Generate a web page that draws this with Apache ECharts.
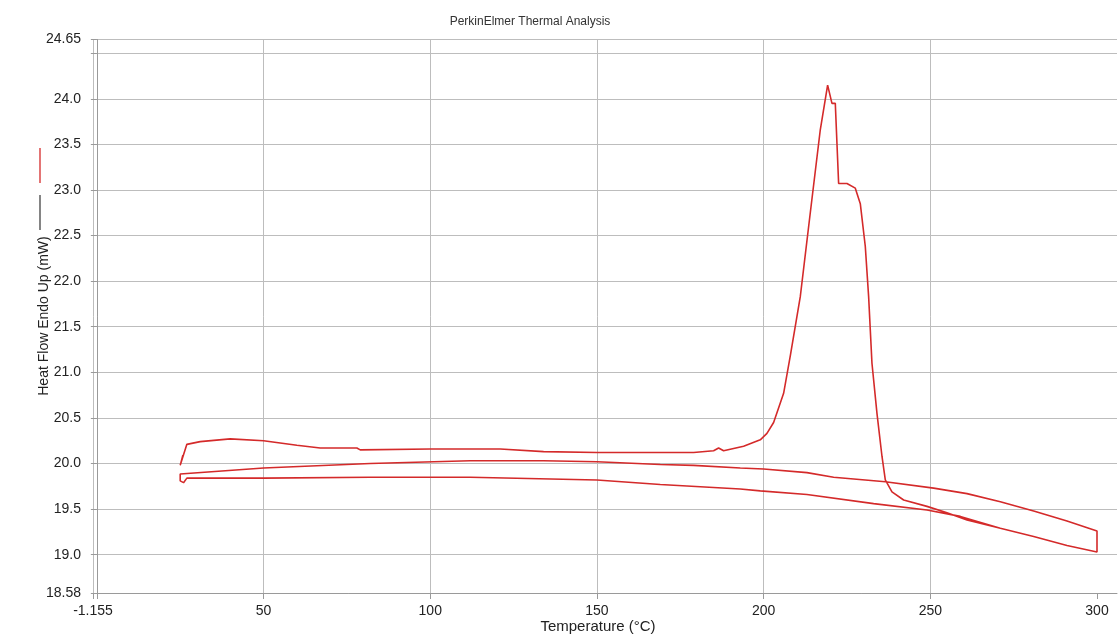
<!DOCTYPE html>
<html>
<head>
<meta charset="utf-8">
<script src="https://cdn.jsdelivr.net/npm/echarts@6/dist/echarts.min.js"></script>
<style>
html,body{margin:0;padding:0;background:#fff;}
#chart{width:1118px;height:638px;}
</style>
</head>
<body>
<div id="chart"></div>
<script>
// First heating (with melting peak)
const heat1T = [25.8, 25.0, 27.0, 31, 40, 50, 60, 67, 78, 79, 100, 112, 121, 134, 150, 179, 185, 186.5, 188, 194, 199, 201, 203, 206, 208, 211, 214, 217, 219.2, 220.5, 221.5, 222.5, 225, 227.5, 229, 230.5, 231.5, 232.5, 234, 235.5, 236.5, 238.5, 242, 249, 255, 261, 271, 281, 291, 300];
const heat1V = [20.09, 19.98, 20.21, 20.24, 20.27, 20.25, 20.20, 20.17, 20.17, 20.15, 20.16, 20.16, 20.16, 20.13, 20.12, 20.12, 20.14, 20.17, 20.14, 20.19, 20.26, 20.33, 20.45, 20.77, 21.18, 21.83, 22.75, 23.66, 24.15, 23.95, 23.95, 23.07, 23.07, 23.02, 22.85, 22.38, 21.83, 21.10, 20.55, 20.08, 19.82, 19.69, 19.60, 19.53, 19.46, 19.38, 19.29, 19.20, 19.10, 19.03];
// Cooling back from 300
const coolT = [300, 291, 281, 271, 261, 251, 236.5, 221, 213, 200, 193, 179, 169, 150, 134, 112, 82, 50, 25];
const coolV = [19.26, 19.37, 19.48, 19.58, 19.67, 19.73, 19.80, 19.85, 19.90, 19.94, 19.95, 19.98, 19.99, 20.02, 20.03, 20.03, 20.00, 19.95, 19.885];
// Second heating
const heat2T = [25, 26, 27, 50, 82, 112, 150, 169, 193, 199, 213, 233, 249, 259, 271, 281, 291, 300];
const heat2V = [19.81, 19.79, 19.84, 19.84, 19.85, 19.85, 19.82, 19.77, 19.72, 19.70, 19.66, 19.56, 19.49, 19.42, 19.29, 19.20, 19.10, 19.03];

const xLabelValues = [-1.155, 50, 100, 150, 200, 250, 300];
const xTickValues = [-1.155, 0, 50, 100, 150, 200, 250, 300];
const yLabelValues = [18.58, 19.0, 19.5, 20.0, 20.5, 21.0, 21.5, 22.0, 22.5, 23.0, 23.5, 24.0, 24.65];
const yTickValues = [18.58, 19.0, 19.5, 20.0, 20.5, 21.0, 21.5, 22.0, 22.5, 23.0, 23.5, 24.0, 24.5, 24.65];

const zip = (a, b) => a.map((v, i) => [v, b[i]]);
const loop = [].concat(zip(heat1T, heat1V), zip(coolT, coolV), zip(heat2T, heat2V));

const chart = echarts.init(document.getElementById('chart'), null, {renderer: 'canvas'});
const labelFont = {color: '#222', fontSize: 14, fontFamily: 'Liberation Sans, Arial, sans-serif'};
chart.setOption({
  animation: false,
  backgroundColor: '#fff',
  title: {
    text: 'PerkinElmer Thermal Analysis',
    left: 525, top: 11, textAlign: 'center',
    textStyle: {fontSize: 12, fontWeight: 'normal', color: '#333', fontFamily: 'Liberation Sans, Arial, sans-serif'}
  },
  grid: {left: 93, right: 1, top: 39.5, bottom: 45, containLabel: false, outerBoundsMode: 'none'},
  xAxis: {
    type: 'value', min: -1.155, max: 306, minInterval: 50, maxInterval: 50,
    name: 'Temperature (°C)', nameLocation: 'middle', nameGap: 26, nameMoveOverlap: false,
    nameTextStyle: {color: '#222', fontSize: 15, fontFamily: 'Liberation Sans, Arial, sans-serif', padding: [0, 14, 0, 0]},
    axisLine: {show: true, lineStyle: {color: '#9a9a9a', width: 1}},
    axisTick: {show: true, length: 6, customValues: xTickValues, lineStyle: {color: '#9a9a9a'}},
    axisLabel: Object.assign({customValues: xLabelValues, margin: 11, showMinLabel: true, showMaxLabel: true,
      formatter: v => String(v)}, labelFont),
    splitLine: {show: true, showMaxLine: false, lineStyle: {color: '#bdbdbd', width: 1}}
  },
  yAxis: {
    type: 'value', min: 18.58, max: 24.65, minInterval: 0.5, maxInterval: 0.5,
    axisLine: {show: true, lineStyle: {color: '#9a9a9a', width: 1}},
    axisTick: {show: true, length: 6, customValues: yTickValues, lineStyle: {color: '#9a9a9a'}},
    axisLabel: Object.assign({customValues: yLabelValues, margin: 12, showMinLabel: true, showMaxLabel: true,
      formatter: v => (v === 18.58 || v === 24.65) ? String(v) : v.toFixed(1)}, labelFont),
    splitLine: {show: true, lineStyle: {color: '#bdbdbd', width: 1}}
  },
  graphic: [
    {type: 'text', x: 44, y: 316, rotation: Math.PI / 2,
     style: {text: 'Heat Flow Endo Up (mW)', fill: '#222', fontSize: 14, fontFamily: 'Liberation Sans, Arial, sans-serif', align: 'center', verticalAlign: 'middle'}},
    {type: 'line', shape: {x1: 40, y1: 195, x2: 40, y2: 230}, style: {stroke: '#333', lineWidth: 1.2}},
    {type: 'line', shape: {x1: 40, y1: 148, x2: 40, y2: 183}, style: {stroke: '#d83a3a', lineWidth: 1.4}}
  ],
  series: [{
    type: 'line', data: loop, showSymbol: false, smooth: false,
    lineStyle: {color: '#d42a2a', width: 1.6}
  }]
});
</script>
</body>
</html>
